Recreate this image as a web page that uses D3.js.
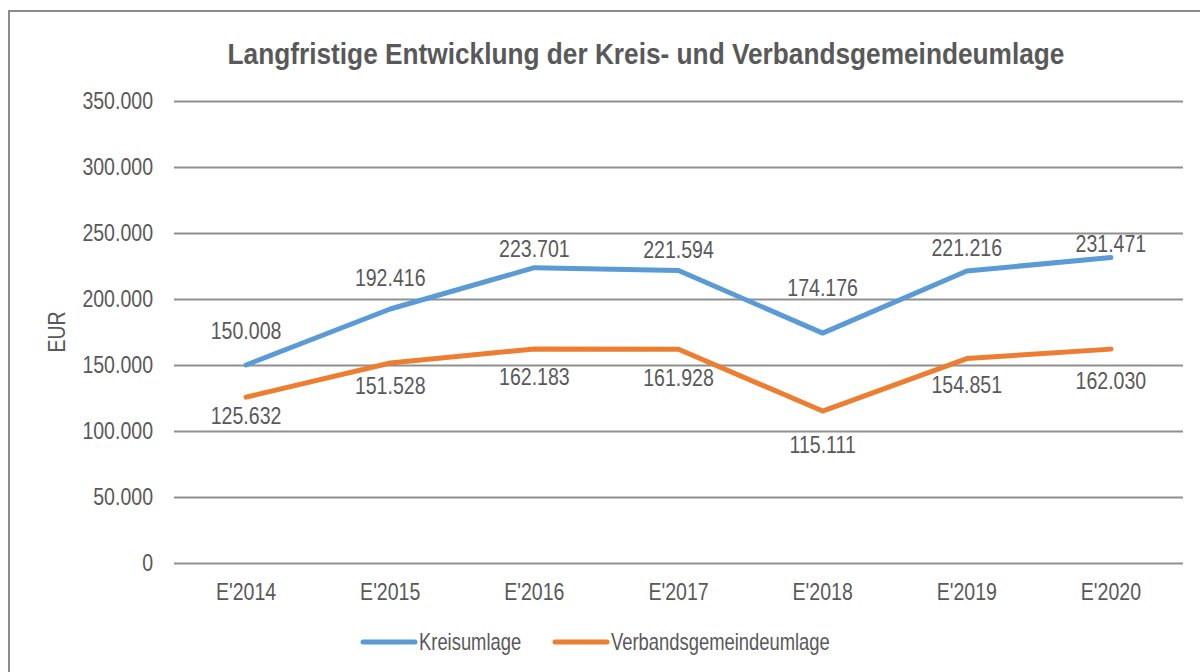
<!DOCTYPE html>
<html>
<head>
<meta charset="utf-8">
<script src="https://cdn.jsdelivr.net/npm/d3@7"></script>
<style>
  body { margin: 0; background: #fff; }
  text { font-family: "Liberation Sans", Arial, sans-serif; fill: #595959; }
</style>
</head>
<body>
<div id="my_dataviz"></div>
<script>
// chart values
var categories = ["E'2014", "E'2015", "E'2016", "E'2017", "E'2018", "E'2019", "E'2020"];
var kreisumlage = [150008, 192416, 223701, 221594, 174176, 221216, 231471];
var verbandsumlage = [125632, 151528, 162183, 161928, 115111, 154851, 162030];
var seriesNames = ["Kreisumlage", "Verbandsgemeindeumlage"];
var yTicks = [0, 50000, 100000, 150000, 200000, 250000, 300000, 350000];

// label nudges (px, label centre relative to point) - hand placed in the original
var kreisLabelDy = [-34, -31, -18, -20, -45, -23, -13];
var verbLabelDy = [19, 23, 29, 29, 34, 27, 32];

var W = 1200, H = 672;
var margin = {top: 101, right: 17, bottom: 109, left: 174},
    width = W - margin.left - margin.right,
    height = H - margin.top - margin.bottom;

// the original uses a narrow font, squeeze Liberation Sans horizontally
function narrow(sel, s) {
  sel.each(function() {
    var t = d3.select(this);
    var x0 = +t.attr("x") || 0;
    t.attr("x", x0 / s);
    var tr = t.attr("transform") || "";
    t.attr("transform", tr + " scale(" + s + ",1)");
  });
}

var svg = d3.select("#my_dataviz")
  .append("svg")
    .attr("width", W)
    .attr("height", H);

// outer frame (right and bottom edges run off the picture)
svg.append("rect")
  .attr("x", 9).attr("y", 11)
  .attr("width", 1200).attr("height", 700)
  .attr("fill", "none")
  .attr("stroke", "#8c8c8c")
  .attr("stroke-width", 2);

svg.append("text")
  .attr("x", 646).attr("y", 53)
  .attr("text-anchor", "middle")
  .attr("dominant-baseline", "central")
  .style("font-size", "30px")
  .style("font-weight", "bold")
  .text("Langfristige Entwicklung der Kreis- und Verbandsgemeindeumlage")
  .call(narrow, 0.875);

var g = svg.append("g")
  .attr("transform", "translate(" + margin.left + "," + margin.top + ")");

var x = d3.scaleBand()
  .domain(categories)
  .range([0, width]);

var y = d3.scaleLinear()
  .domain([0, 350000])
  .range([height, 0]);

var fmt = function(v) { return d3.format(",")(v).replace(/,/g, "."); };

// gridlines + y labels
var yAxis = g.append("g")
  .call(d3.axisLeft(y).tickValues(yTicks).tickSize(-width).tickPadding(21).tickFormat(fmt));
yAxis.select(".domain").remove();
yAxis.selectAll("line").attr("stroke", "#8f8f8f").attr("stroke-width", 2);
yAxis.selectAll("text").style("font-size", "23px").attr("fill", "#595959").call(narrow, 0.85);

// x labels
var xAxis = g.append("g")
  .attr("transform", "translate(0," + height + ")")
  .call(d3.axisBottom(x).tickSize(0).tickPadding(21));
xAxis.select(".domain").remove();
xAxis.selectAll("text").style("font-size", "23px").attr("fill", "#595959").call(narrow, 0.85);

svg.append("text")
  .attr("transform", "translate(57,332) rotate(-90)")
  .attr("text-anchor", "middle")
  .attr("dominant-baseline", "central")
  .style("font-size", "23px")
  .text("EUR")
  .call(narrow, 0.85);

var colors = ["#5b9bd5", "#ed7d31"];
var series = [
  {name: seriesNames[0], values: kreisumlage, dy: kreisLabelDy, color: colors[0]},
  {name: seriesNames[1], values: verbandsumlage, dy: verbLabelDy, color: colors[1]}
];

var line = d3.line()
  .x(function(d, i) { return x(categories[i]) + x.bandwidth() / 2; })
  .y(function(d) { return y(d); });

series.forEach(function(s) {
  g.append("path")
    .datum(s.values)
    .attr("d", line)
    .attr("fill", "none")
    .attr("stroke", s.color)
    .attr("stroke-width", 5)
    .attr("stroke-linejoin", "round")
    .attr("stroke-linecap", "round");

  g.selectAll(null)
    .data(s.values)
    .enter()
    .append("text")
      .attr("x", function(d, i) { return x(categories[i]) + x.bandwidth() / 2; })
      .attr("y", function(d, i) { return y(d) + s.dy[i]; })
      .attr("text-anchor", "middle")
      .attr("dominant-baseline", "central")
      .style("font-size", "23px")
      .text(fmt)
      .call(narrow, 0.85);
});

// legend
var legendX = [363, 555];
series.forEach(function(s, i) {
  var lg = svg.append("g").attr("transform", "translate(" + legendX[i] + ",642)");
  lg.append("line")
    .attr("x1", 0).attr("x2", 52)
    .attr("stroke", s.color)
    .attr("stroke-width", 5)
    .attr("stroke-linecap", "round");
  lg.append("text")
    .attr("x", 56)
    .attr("dominant-baseline", "central")
    .style("font-size", "23px")
    .text(s.name)
    .call(narrow, 0.8);
});
</script>
</body>
</html>
